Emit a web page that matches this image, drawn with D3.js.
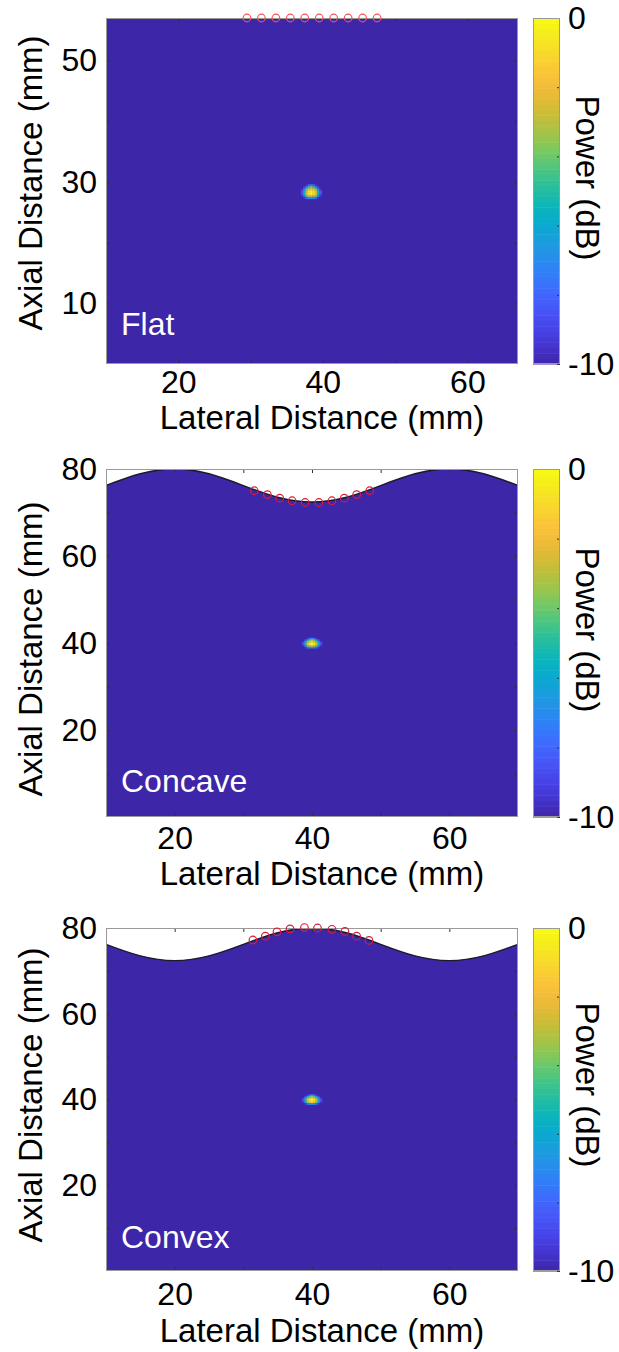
<!DOCTYPE html>
<html>
<head>
<meta charset="utf-8">
<script src="https://cdn.jsdelivr.net/npm/d3@7"></script>
<style>
    body { margin: 0; background: #fff; }
    text { font-family: "Liberation Sans", Arial, sans-serif; }
</style>
</head>
<body>
<script>
//Data
var panelNames = ["Flat", "Concave", "Convex"];
var xDomains = [[10, 67], [10, 70], [10, 70]];
var yDomains = [[0, 57], [0, 80], [0, 80]];
var xTicks = [20, 40, 60];
var xMinorTicks = [20, 30, 40, 50, 60];
var yTicks = [[10, 30, 50], [20, 40, 60, 80], [20, 40, 60, 80]];
var yMinorTicks = [[10, 20, 30, 40, 50], [10, 20, 30, 40, 50, 60, 70], [10, 20, 30, 40, 50, 60, 70]];

//Surface profile (mm), sampled every 5 mm
var surfaceX = [10, 15, 20, 25, 30, 35, 40, 45, 50, 55, 60, 65, 70];
var surfaceConcave = [76.2, 78.9, 80.0, 78.9, 76.2, 73.5, 72.4, 73.5, 76.2, 78.9, 80.0, 78.9, 76.2];
var surfaceConvex = [76.2, 73.5, 72.4, 73.5, 76.2, 78.9, 80.0, 78.9, 76.2, 73.5, 72.4, 73.5, 76.2];

//Array element positions (mm)
var elemXFlat = [29.5, 31.5, 33.5, 35.5, 37.5, 39.5, 41.5, 43.5, 45.5, 47.5];
var elemYFlat = [57, 57, 57, 57, 57, 57, 57, 57, 57, 57];
var elemXConcave = [31.6, 33.5, 35.3, 37.1, 39.0, 41.0, 42.9, 44.7, 46.5, 48.4];
var elemYConcave = [75.0, 74.1, 73.3, 72.7, 72.3, 72.3, 72.7, 73.3, 74.1, 75.0];
var elemXConvex = [31.4, 33.2, 34.9, 36.8, 38.9, 40.8, 42.9, 44.8, 46.5, 48.3];
var elemYConvex = [77.2, 78.1, 79.1, 79.8, 80.1, 80.0, 79.7, 79.2, 78.1, 77.1];

//Focal spot centre (mm) and power map around it (dB), top row first
var focusX = [38.4, 40, 40];
var focusY = [28.4, 40, 40];
var spotStepX = 0.32;
var spotStepY = 0.34;
var spotDb = [
    [-10, -10, -9.5, -8, -7, -8, -9.5, -10, -10],
    [-10, -9, -6.5, -4.5, -3.5, -4.5, -6.5, -9, -10],
    [-9.5, -7, -4, -2.2, -1.5, -2.2, -4, -7, -9.5],
    [-8.5, -5.5, -2.5, -0.8, -0.2, -0.8, -2.5, -5.5, -8.5],
    [-8.5, -5.5, -2.3, -0.6, 0, -0.6, -2.3, -5.5, -8.5],
    [-9.5, -7, -4, -2.5, -2, -2.5, -4, -7, -9.5],
    [-10, -9.5, -8, -7, -6.5, -7, -8, -9.5, -10]
];

//Colorbar
var cbarRange = [-10, 0];
var cbarTicks = [-10, -8, -6, -4, -2, 0];
var cbarLabels = ["-10", "0"];

//Parula colormap
var parulaStops = [
    [0.2422, 0.1504, 0.6603], [0.2653, 0.2006, 0.8022], [0.2780, 0.2600, 0.9100],
    [0.2808, 0.3250, 0.9600], [0.2600, 0.3950, 0.9950], [0.2000, 0.4800, 0.9900],
    [0.1600, 0.5500, 0.9300], [0.1100, 0.6100, 0.8700], [0.0300, 0.6600, 0.8200],
    [0.0300, 0.7100, 0.7400], [0.1300, 0.7400, 0.6400], [0.2500, 0.7700, 0.5400],
    [0.4200, 0.7900, 0.4200], [0.5900, 0.7800, 0.3000], [0.7300, 0.7500, 0.2300],
    [0.8600, 0.7300, 0.2000], [0.9600, 0.7300, 0.2300], [0.9900, 0.7800, 0.2200],
    [0.9700, 0.8500, 0.1700], [0.9600, 0.9200, 0.1100], [0.9769, 0.9839, 0.0805]
].map(function(c) { return d3.rgb(c[0] * 255, c[1] * 255, c[2] * 255).formatHex(); });
var parula = d3.interpolateRgbBasis(parulaStops);
var color = d3.scaleSequential(parula).domain(cbarRange).clamp(true);

//Layout
var width = 619, height = 1352;
var left = 106, right = 518, cbLeft = 533, cbRight = 560;
var layout = [
    {top: 18, bottom: 364, xPad: 6, xLabelY: 429, yLabelY: 183, cbLabelY: 178, nameY: 335},
    {top: 469, bottom: 817, xPad: 9, xLabelY: 885, yLabelY: 649, cbLabelY: 630, nameY: 792},
    {top: 928, bottom: 1271, xPad: 11, xLabelY: 1342, yLabelY: 1095, cbLabelY: 1085, nameY: 1248}
];
var surfaces = [null, surfaceConcave, surfaceConvex];
var elemX = [elemXFlat, elemXConcave, elemXConvex];
var elemY = [elemYFlat, elemYConcave, elemYConvex];

var svg = d3.select("body").append("svg")
    .attr("width", width)
    .attr("height", height);

var defs = svg.append("defs");
defs.append("filter").attr("id", "soft")
    .attr("x", "-50%").attr("y", "-50%").attr("width", "200%").attr("height", "200%")
    .append("feGaussianBlur").attr("stdDeviation", 0.7);

function styleAxis(g, size) {
    g.attr("font-family", null).attr("font-size", null);
    g.select(".domain").remove();
    g.selectAll("line").attr("stroke", "#333");
    g.selectAll("text").attr("fill", "#000").style("font-size", size + "px");
}

panelNames.forEach(function(name, i) {
    var L = layout[i];
    var x = d3.scaleLinear().domain(xDomains[i]).range([left, right]);
    var y = d3.scaleLinear().domain(yDomains[i]).range([L.bottom, L.top]);
    var g = svg.append("g");

    defs.append("clipPath").attr("id", "clip" + i)
        .append("rect")
        .attr("x", left).attr("y", L.top)
        .attr("width", right - left).attr("height", L.bottom - L.top);

    var plot = g.append("g").attr("clip-path", "url(#clip" + i + ")");

    //Medium (below the surface)
    if (surfaces[i]) {
        var pts = d3.zip(surfaceX, surfaces[i]);
        var area = d3.area()
            .x(function(d) { return x(d[0]); })
            .y0(L.bottom)
            .y1(function(d) { return y(d[1]); })
            .curve(d3.curveNatural);
        plot.append("path").datum(pts).attr("d", area).attr("fill", color(-10));
    } else {
        plot.append("rect")
            .attr("x", left).attr("y", L.top)
            .attr("width", right - left).attr("height", L.bottom - L.top)
            .attr("fill", color(-10));
    }

    //Focal spot
    var cells = [];
    spotDb.forEach(function(row, r) {
        row.forEach(function(v, c) {
            cells.push({
                mx: focusX[i] + (c - (row.length - 1) / 2) * spotStepX,
                my: focusY[i] + ((spotDb.length - 1) / 2 - r) * spotStepY,
                v: v
            });
        });
    });
    plot.append("g").attr("filter", "url(#soft)")
        .selectAll("rect")
        .data(cells)
        .enter()
        .append("rect")
        .attr("x", function(d) { return x(d.mx - spotStepX / 2); })
        .attr("y", function(d) { return y(d.my + spotStepY / 2); })
        .attr("width", function(d) { return x(d.mx + spotStepX / 2) - x(d.mx - spotStepX / 2) + 0.3; })
        .attr("height", function(d) { return y(d.my - spotStepY / 2) - y(d.my + spotStepY / 2) + 0.3; })
        .attr("fill", function(d) { return color(d.v); });

    //Surface line
    if (surfaces[i]) {
        var line = d3.line()
            .x(function(d) { return x(d[0]); })
            .y(function(d) { return y(d[1]); })
            .curve(d3.curveNatural);
        plot.append("path").datum(d3.zip(surfaceX, surfaces[i]))
            .attr("d", line)
            .attr("fill", "none")
            .attr("stroke", "#1b1b2a")
            .attr("stroke-width", 1.4);
    }

    //Tick marks on all four sides
    g.append("g").attr("transform", "translate(0," + L.bottom + ")")
        .call(d3.axisBottom(x).tickValues(xMinorTicks).tickSizeInner(-4).tickSizeOuter(0).tickFormat(""))
        .call(styleAxis, 10);
    g.append("g").attr("transform", "translate(0," + L.top + ")")
        .call(d3.axisTop(x).tickValues(xMinorTicks).tickSizeInner(-4).tickSizeOuter(0).tickFormat(""))
        .call(styleAxis, 10);
    g.append("g").attr("transform", "translate(" + left + ",0)")
        .call(d3.axisLeft(y).tickValues(yMinorTicks[i]).tickSizeInner(-4).tickSizeOuter(0).tickFormat(""))
        .call(styleAxis, 10);
    g.append("g").attr("transform", "translate(" + right + ",0)")
        .call(d3.axisRight(y).tickValues(yMinorTicks[i]).tickSizeInner(-4).tickSizeOuter(0).tickFormat(""))
        .call(styleAxis, 10);

    //Box
    g.append("rect")
        .attr("x", left + 0.5).attr("y", L.top + 0.5)
        .attr("width", right - left - 1).attr("height", L.bottom - L.top - 1)
        .attr("fill", "none").attr("stroke", "#9a9a9a");

    //Array elements
    g.append("g").selectAll("circle")
        .data(d3.zip(elemX[i], elemY[i]))
        .enter()
        .append("circle")
        .attr("cx", function(d) { return x(d[0]); })
        .attr("cy", function(d) { return y(d[1]); })
        .attr("r", 3.8)
        .attr("fill", "none")
        .attr("stroke", i === 0 ? "#f4505a" : "#d81c3c")
        .attr("stroke-width", 1.2);

    //Tick labels
    g.append("g").attr("transform", "translate(0," + L.bottom + ")")
        .call(d3.axisBottom(x).tickValues(xTicks).tickSize(0).tickPadding(L.xPad))
        .call(styleAxis, 32);
    g.append("g").attr("transform", "translate(" + left + ",0)")
        .call(d3.axisLeft(y).tickValues(yTicks[i]).tickSize(0).tickPadding(9))
        .call(styleAxis, 32);

    //Axis titles
    g.append("text")
        .attr("x", 322).attr("y", L.xLabelY)
        .attr("text-anchor", "middle")
        .style("font-size", "33px")
        .text("Lateral Distance (mm)");
    g.append("text")
        .attr("transform", "translate(42," + L.yLabelY + ") rotate(-90)")
        .attr("text-anchor", "middle")
        .style("font-size", "33px")
        .text("Axial Distance (mm)");

    //Panel name
    g.append("text")
        .attr("x", 121).attr("y", L.nameY)
        .attr("fill", "#fff")
        .style("font-size", "32px")
        .text(name);

    //Colorbar
    var cy = d3.scaleLinear().domain(cbarRange).range([L.bottom, L.top]);
    var steps = d3.range(64).map(function(k) { return cbarRange[0] + (k + 0.5) * (cbarRange[1] - cbarRange[0]) / 64; });
    var stepH = (L.bottom - L.top) / 64;
    g.append("g").selectAll("rect")
        .data(steps)
        .enter()
        .append("rect")
        .attr("x", cbLeft)
        .attr("y", function(d) { return cy(d) - stepH / 2; })
        .attr("width", cbRight - cbLeft)
        .attr("height", stepH + 0.5)
        .attr("fill", function(d) { return color(d); });
    g.append("g").attr("transform", "translate(" + cbRight + ",0)")
        .call(d3.axisRight(cy).tickValues(cbarTicks).tickSizeInner(-3).tickSizeOuter(0).tickFormat(""))
        .call(styleAxis, 10);
    g.append("rect")
        .attr("x", cbLeft + 0.5).attr("y", L.top + 0.5)
        .attr("width", cbRight - cbLeft - 1).attr("height", L.bottom - L.top - 1)
        .attr("fill", "none").attr("stroke", "#9a9a9a");
    g.append("g").attr("transform", "translate(" + cbRight + ",0)")
        .call(d3.axisRight(cy).tickValues(cbarLabels.map(Number)).tickSize(0).tickPadding(8)
            .tickFormat(function(d) { return cbarLabels[cbarLabels.map(Number).indexOf(d)]; }))
        .call(styleAxis, 32);
    g.append("text")
        .attr("transform", "translate(576," + L.cbLabelY + ") rotate(90)")
        .attr("text-anchor", "middle")
        .style("font-size", "33px")
        .text("Power (dB)");
});
</script>
</body>
</html>
